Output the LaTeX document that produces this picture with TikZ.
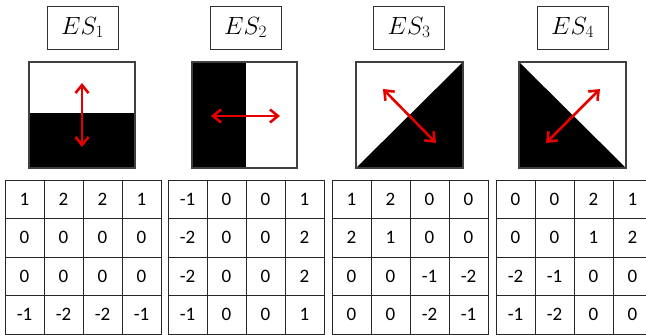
\documentclass[tikz,border=0pt]{standalone}
\usepackage{fontspec}
\setmainfont{Carlito}
\usetikzlibrary{arrows.meta}
\tikzset{
  titlebox/.style={draw=black!80, line width=0.9pt, minimum width=71pt, minimum height=43pt, inner sep=0pt, font=\fontsize{24}{28}\selectfont},
  sqframe/.style={draw=black!75, line width=1.6pt},
  redarrow/.style={draw=red!90!black, line width=2.6pt, {Straight Barb[length=8pt,width=13pt]}-{Straight Barb[length=8pt,width=13pt]}},
  cell/.style={minimum width=39pt, minimum height=38.5pt, inner sep=0pt, font=\fontsize{19}{22}\selectfont},
  gridline/.style={draw=black!85, line width=0.9pt}
}
\begin{document}
\begin{tikzpicture}[x=1pt,y=-1pt]
\useasboundingbox (0,0) rectangle (646,335);
\begin{scope}
\clip (0,0) rectangle (646,335);
% titles
\node[titlebox] (t1) at (82.5,27.5) {$ES_1$};
\node[titlebox] (t2) at (245.5,27.5) {$ES_2$};
\node[titlebox] (t3) at (409,27.5) {$ES_3$};
\node[titlebox] (t4) at (572.5,27.5) {$ES_4$};
% squares
\fill[black] (29,113) rectangle (135,168);
\draw[sqframe] (29,62) rectangle (135,168);
\fill[black] (192,62) rectangle (246,168);
\draw[sqframe] (192,62) rectangle (297,168);
\fill[black] (356,168) -- (463,62) -- (463,168) -- cycle;
\draw[sqframe] (356,62) rectangle (463,168);
\fill[black] (519,62) -- (626,168) -- (519,168) -- cycle;
\draw[sqframe] (519,62) rectangle (626,168);
% arrows
\coordinate (a1s) at (82,83); \coordinate (a1e) at (82,147);
\coordinate (a2s) at (211,116); \coordinate (a2e) at (280,116);
\coordinate (a3s) at (383,89); \coordinate (a3e) at (436,143);
\coordinate (a4s) at (546,143); \coordinate (a4e) at (600,89);
\draw[redarrow] (a1s) -- (a1e);
\draw[redarrow] (a2s) -- (a2e);
\draw[redarrow] (a3s) -- (a3e);
\draw[redarrow] (a4s) -- (a4e);
% grids
\foreach \gx/\vals in {5/{{1,2,2,1},{0,0,0,0},{0,0,0,0},{-1,-2,-2,-1}},
                       168/{{-1,0,0,1},{-2,0,0,2},{-2,0,0,2},{-1,0,0,1}},
                       332/{{1,2,0,0},{2,1,0,0},{0,0,-1,-2},{0,0,-2,-1}},
                       496/{{0,0,2,1},{0,0,1,2},{-2,-1,0,0},{-1,-2,0,0}}} {
  \foreach \row [count=\r from 0] in \vals {
    \foreach \v [count=\c from 0] in \row {
      \node[cell, gridline, draw] (g\gx-\r-\c) at ({\gx+19.5+39*\c},{199.25+38.5*\r}) {\v};
    }
  }
}
\end{scope}
\end{tikzpicture}
\end{document}
